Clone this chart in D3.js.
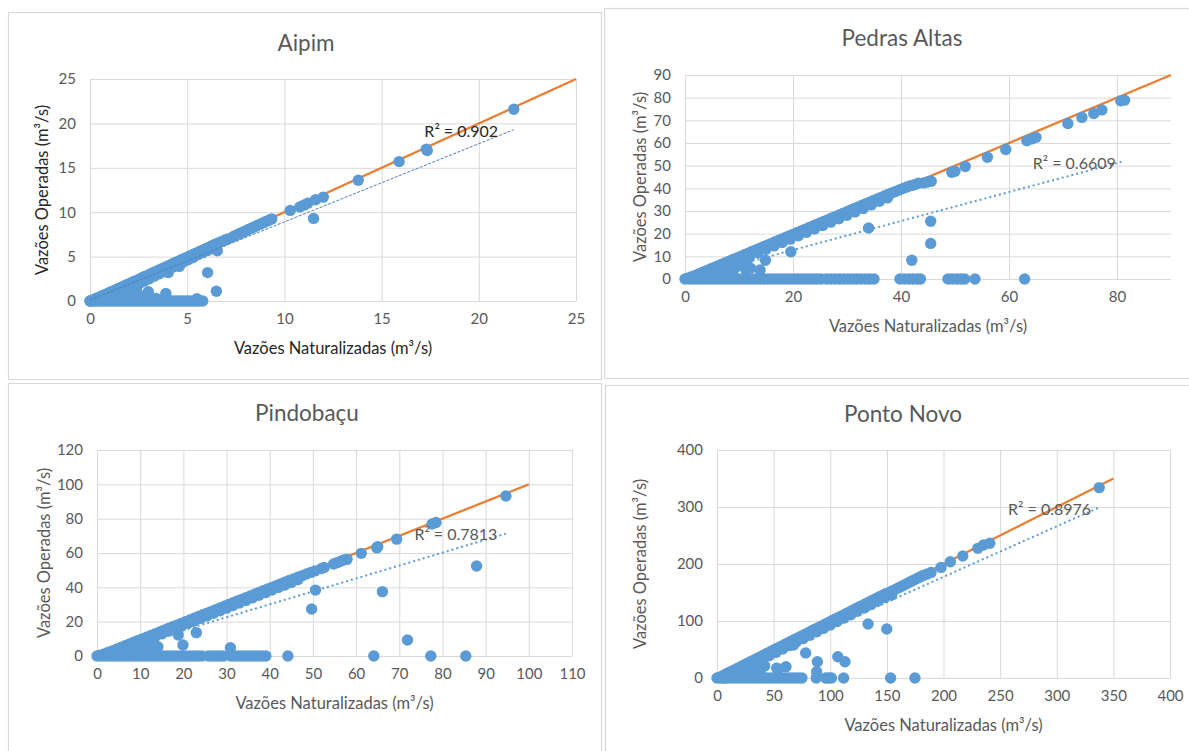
<!DOCTYPE html>
<html><head><meta charset="utf-8">
<script src="https://cdn.jsdelivr.net/npm/d3@7"></script>
<style>body{margin:0;background:#fff;} svg{display:block;} text{font-family:Lato,"Open Sans",sans-serif;}</style>
</head><body><svg id="c" width="1189" height="751"></svg>
<script>
// ---------------- DATA ----------------
const titles = ["Aipim", "Pedras Altas", "Pindobaçu", "Ponto Novo"];
const xAxisTitle = "Vazões Naturalizadas (m³/s)";
const yAxisTitle = "Vazões Operadas (m³/s)";

// Aipim
const aipimXTicks = [0, 5, 10, 15, 20, 25];
const aipimYTicks = [0, 5, 10, 15, 20, 25];
const aipimIdentityMax = 25;
const aipimFit = [0.88, 0.11]; // slope, intercept
const aipimR2 = "R² = 0.902";
const aipimZeroX = [0,0.1,0.25,0.4,0.55,0.7,0.85,1.0,1.15,1.3,1.45,1.6,1.75,1.9,2.05,2.2,2.35,2.5,2.65,2.8,2.95,3.1,3.25,3.4,3.55,3.7,3.85,4.0,4.15,4.3,4.45,4.6,4.75,4.9,5.05,5.2,5.35,5.5,5.65,5.8];
const aipimPoints = [
 [0,0],[0.12,0.1],[0.25,0.22],[0.38,0.35],[0.5,0.46],[0.63,0.6],[0.76,0.72],[0.9,0.85],[1.03,0.98],[1.16,1.1],[1.3,1.24],[1.43,1.38],[1.56,1.5],[1.7,1.63],[1.83,1.77],[1.96,1.9],[2.1,2.03],[2.23,2.16],[2.36,2.3],[2.5,2.43],[2.63,2.56],[2.76,2.7],[2.9,2.83],[3.03,2.96],[3.16,3.1],[3.3,3.23],[3.43,3.36],[3.56,3.5],[3.7,3.63],[3.83,3.76],[3.96,3.9],[4.1,4.03],[4.23,4.16],[4.36,4.3],[4.5,4.43],[4.63,4.56],[4.76,4.7],[4.9,4.83],[5.03,4.96],[5.16,5.1],[5.3,5.23],[5.43,5.36],[5.56,5.5],[5.7,5.63],[5.83,5.76],[5.96,5.9],[6.1,6.03],[6.23,6.16],[6.36,6.3],[6.5,6.43],[6.63,6.56],[6.8,6.72],[6.95,6.88],[7.1,7.0],[7.4,7.3],[7.55,7.45],[7.7,7.6],[7.85,7.75],[8.0,7.9],[8.15,8.05],[8.3,8.2],[8.45,8.35],[8.6,8.5],[8.75,8.65],[8.9,8.8],[9.05,8.95],[9.2,9.1],[9.35,9.25],
 [0.3,0.1],[0.55,0.25],[0.8,0.45],[1.05,0.65],[1.3,0.85],[1.55,1.05],[1.8,1.3],[2.05,1.5],[2.3,1.75],[2.55,2.0],[2.8,2.25],[3.05,2.5],[3.3,2.8],[3.55,3.05],[3.8,3.3],[4.05,3.6],[4.3,3.85],[4.55,4.1],[4.8,4.4],[5.05,4.65],[5.3,4.9],[5.55,5.2],[5.8,5.45],[6.05,5.7],[6.3,5.95],
 [0.5,0.05],[0.7,0.2],[0.9,0.3],[1.1,0.35],[1.3,0.5],[1.5,0.6],[1.7,0.75],[1.4,0.25],[1.9,0.4],[2.1,0.9],[2.4,1.2],[2.2,0.35],[2.6,0.5],[1.8,1.0],[3.0,1.05],[3.9,0.85],[2.9,0.4],[3.4,0.3],
 [4.03,3.2],[4.6,3.9],[6.05,3.2],[6.5,1.1],[6.55,5.65],[11.5,9.3],[5.5,0.25],
 [10.3,10.2],[10.8,10.6],[11.0,10.8],[11.2,11.0],[11.6,11.4],[12.0,11.7],[13.8,13.6],[15.9,15.7],[17.3,17.1],[17.35,16.95],[21.8,21.6]
];

// Pedras Altas
const pedrasXTicks = [0, 20, 40, 60, 80];
const pedrasYTicks = [0, 10, 20, 30, 40, 50, 60, 70, 80, 90];
const pedrasIdentityMax = 90;
const pedrasFit = [0.648, -0.7];
const pedrasR2 = "R² = 0.6609";
const pedrasZeroX = [0,0.7,1.4,2.1,2.8,3.5,4.2,4.9,5.6,6.3,7.0,7.7,8.4,9.1,9.8,10.5,11.2,11.9,12.6,13.3,14.0,14.7,15.4,16.1,16.8,17.5,18.2,18.9,19.6,20.3,21.0,21.7,22.4,23.1,23.8,24.5,25.2,26.2,27.0,27.8,28.6,29.4,30.2,31.0,31.8,32.6,33.4,34.2,35.0,39.8,40.6,41.4,42.2,43.0,43.6,48.7,49.5,50.3,51.1,51.8,53.7,62.9];
const pedrasPoints = [
 [0.5,0.3],[1.2,1.0],[1.9,1.6],[2.6,2.3],[3.3,3.0],[4.0,3.7],[4.7,4.4],[5.4,5.1],[6.1,5.8],[6.8,6.5],[7.5,7.2],[8.2,7.9],[8.9,8.6],[9.6,9.3],[10.3,10.0],[11.0,10.7],[11.7,11.4],[12.4,12.1],[13.1,12.8],[13.8,13.5],[14.5,14.2],[15.2,14.9],[15.9,15.6],[16.6,16.3],[17.3,17.0],[18.0,17.7],[18.7,18.4],[19.4,19.1],[20.1,19.8],[20.8,20.5],[21.5,21.2],[22.2,21.9],[22.9,22.6],[23.6,23.3],[24.3,24.0],[25.0,24.7],[25.7,25.4],[26.4,26.1],[27.1,26.8],[27.8,27.5],[28.5,28.2],[29.2,28.9],[29.9,29.6],[30.6,30.3],[31.3,31.0],[32.0,31.7],[32.7,32.4],[33.4,33.1],[34.1,33.8],[34.8,34.5],[35.5,35.2],[36.2,35.9],[36.9,36.6],[37.6,37.3],[38.3,38.0],[39.0,38.6],[39.7,39.3],[40.4,40.0],[41.1,40.6],[41.8,41.2],[42.5,41.6],[43.2,42.3],
 [3.0,1.2],[4.5,2.6],[6.0,4.1],[7.5,5.6],[9.0,7.1],[10.5,8.6],[12.0,10.1],[13.5,11.6],[15.0,13.1],[16.5,14.6],[18.0,16.1],[19.5,17.6],[21.0,19.1],[22.5,20.6],[24.0,22.1],[25.5,23.6],[27.0,25.1],[28.5,26.6],[30.0,28.1],[31.5,29.6],[33.0,31.1],[34.5,32.7],[36.0,34.3],[37.5,35.8],
 [2.0,0.6],[3.2,0.5],[4.2,1.5],[5.5,2.2],[6.5,3.2],[7.5,1.8],[8.3,3.8],[9.3,5.0],[8.8,2.5],[10.3,6.6],[11.2,4.3],[12.1,4.8],[13.9,4.0],[14.9,8.3],[19.6,12.0],[11.5,8.0],[7.0,4.5],
 [34.0,22.5],[45.5,25.5],[45.5,15.7],[42.0,8.3],
 [44.2,42.4],[44.9,42.8],[45.6,43.1],[49.4,47.1],[50.0,47.5],[51.9,49.6],[56.0,53.7],[59.4,57.1],[63.3,61.0],[64.2,61.8],[65.0,62.5],[70.9,68.6],[73.5,71.3],[75.7,73.0],[77.2,74.6],[80.7,78.6],[81.4,78.9]
];

// Pindobaçu
const pindoXTicks = [0, 10, 20, 30, 40, 50, 60, 70, 80, 90, 100, 110];
const pindoYTicks = [0, 20, 40, 60, 80, 100, 120];
const pindoIdentityMax = 100;
const pindoFit = [0.759, -0.6];
const pindoR2 = "R² = 0.7813";
const pindoZeroX = [0,0.9,1.8,2.7,3.6,4.5,5.4,6.3,7.2,8.1,9.0,9.9,10.8,11.7,12.6,13.5,14.4,15.3,16.2,17.1,18.0,18.9,19.8,20.7,21.6,22.5,23.4,24.3,25.8,26.7,27.6,28.5,29.3,31.0,31.9,32.8,33.7,34.6,35.5,36.4,37.3,38.2,39.1,44.2,64.1,77.3,85.4];
const pindoPoints = [
 [0.5,0.3],[1.5,1.1],[2.5,2.0],[3.5,3.0],[4.5,4.0],[5.5,5.0],[6.5,6.0],[7.5,7.0],[8.5,8.0],[9.5,9.0],[10.5,10.0],[11.5,11.0],[12.5,12.0],[13.5,13.0],[14.5,14.0],[15.5,15.0],[16.5,16.0],[17.5,17.0],[18.5,18.0],[19.5,19.0],[20.5,20.0],[21.5,21.0],[22.5,22.0],[23.5,23.0],[24.5,24.0],[25.5,25.0],[26.5,26.0],[27.5,27.0],[28.5,28.0],[29.5,29.0],[30.5,30.0],[31.5,31.0],[32.5,32.0],[33.5,33.0],[34.5,34.0],[35.5,35.0],[36.5,36.0],[37.5,37.0],[38.5,38.0],[39.5,39.0],[40.5,40.0],[41.5,41.0],[42.5,42.0],[43.5,43.0],[44.5,44.0],[45.5,44.9],[46.5,45.9],[47.5,46.8],[48.5,47.8],[49.5,48.7],[50.5,49.6],
 [3.0,1.2],[4.5,2.5],[6.0,4.0],[7.5,5.4],[9.0,6.9],[10.5,8.4],[12.0,9.9],[13.5,11.4],[15.0,12.9],[16.5,14.4],[18.0,15.9],[19.5,17.4],[21.0,18.9],[22.5,20.4],[24.0,21.9],[25.5,23.4],[27.0,24.9],[28.5,26.4],[30.0,27.9],[31.5,29.4],[33.0,30.9],[34.5,32.4],[36.0,33.9],[37.5,35.4],[39.0,36.9],[40.5,38.4],[42.0,39.9],[43.5,41.4],[45.0,42.9],[46.5,44.4],
 [3.0,0.8],[5.0,1.5],[6.0,3.0],[7.0,1.2],[8.0,4.0],[9.0,2.0],[10.0,5.5],[11.0,3.0],[12.0,7.0],[11.5,3.9],[13.0,4.5],[14.1,5.4],[18.8,12.2],[19.9,6.4],[23.0,13.6],[30.9,4.8],
 [49.7,27.4],[50.6,38.4],[66.1,37.5],[71.9,9.3],[87.9,52.4],
 [52.0,51.0],[52.6,51.6],[54.8,53.6],[55.6,54.4],[56.4,55.2],[57.2,56.0],[57.9,56.3],[61.2,59.8],[64.8,63.0],[65.0,63.7],[69.4,68.1],[77.6,76.9],[78.5,77.8],[94.7,93.2]
];

// Ponto Novo
const pontoXTicks = [0, 50, 100, 150, 200, 250, 300, 350, 400];
const pontoYTicks = [0, 100, 200, 300, 400];
const pontoIdentityMax = 350;
const pontoFit = [0.89, -1];
const pontoR2 = "R² = 0.8976";
const pontoZeroX = [0,3,6,9,12,15,18,21,24,27,30,33,36,39,42,45,48,51,54,57,60,63,66,69,72,75,87.6,96,98.5,101,111.8,153.3,174.8];
const pontoPoints = [
 [2,1],[5,4],[8,7],[11,10],[14,13],[17,16],[20,19],[23,22],[26,25],[29,28],[32,31],[35,34],[38,37],[41,40],[44,43],[47,46],[50,49],[53,52],[56,55],[59,58],[62,61],[65,64],[68,67],[71,70],[74,73],[77,76],[80,79],[83,82],[86,85],[89,88],[92,91],[95,94],[98,97],[101,100],[104,103],[107,106],[110,109],[113,112],[116,115],[119,118],[122,121],[125,124],[128,127],[131,130],[134,133],[137,136],[140,139],[143,142],[146,145],[149,148],[152,150],[155,153],[158,156],[161,159],[164,162],[167,165],[170,168],[173,171],[176,174],[179,177],[182,180],[185,182],[189,185],
 [10,3],[16,9],[22,15],[28,21],[34,27],[40,33],[46,39],[52,45],[58,51],[64,57],[70,63],[76,69],[82,75],[88,81],[94,87],[100,93],[106,99],[112,105],[118,111],[124,117],[130,123],[136,129],[142,135],[148,141],
 [6,0],[8,2],[10,4],[12,1],[14,6],[16,5],[18,3],[20,8],[22,10],[24,9],[26,6],[27,3],[30,12],[31,14],[34,5],[35,8],[28,18],[15,9],[25,14],[38,12],
 [42.1,21],[54.1,15.8],[60.9,19.8],[52.7,17],[67.5,57.9],[78.3,44],[88.6,28.6],[88,11],[106.7,37.4],[113,28.6],[133.4,94.7],[149.9,86],[154.3,145.6],
 [197.8,194],[206,204],[217,214],[230.3,227.5],[235.3,233.3],[240.9,236.3],[337.5,334]
];

// ---------------- LAYOUT ----------------
const panels = [
 {title:titles[0], pts:aipimPoints, zeros:aipimZeroX, xTicks:aipimXTicks, yTicks:aipimYTicks, idMax:aipimIdentityMax, fit:aipimFit, r2:aipimR2,
  box:[8,12,593,367], plot:[90,576,79,301], titleXY:[306,43], yTitleX:42, r2At:[17.2,19.1], dark:true, thin:true},
 {title:titles[1], pts:pedrasPoints, zeros:pedrasZeroX, xTicks:pedrasXTicks, yTicks:pedrasYTicks, xMax:90, idMax:pedrasIdentityMax, fit:pedrasFit, r2:pedrasR2,
  box:[604,8,600,370], plot:[685,1171,75,279], titleXY:[902,38], yTitleX:640, r2At:[64.4,51.2]},
 {title:titles[2], pts:pindoPoints, zeros:pindoZeroX, xTicks:pindoXTicks, yTicks:pindoYTicks, idMax:pindoIdentityMax, fit:pindoFit, r2:pindoR2,
  box:[8,383,593,380], plot:[97,572,450,656], titleXY:[307,413], yTitleX:44, r2At:[73.5,70.9]},
 {title:titles[3], pts:pontoPoints, zeros:pontoZeroX, xTicks:pontoXTicks, yTicks:pontoYTicks, idMax:pontoIdentityMax, fit:pontoFit, r2:pontoR2,
  box:[605,385,600,380], plot:[717,1170,450,678], titleXY:[903,414], yTitleX:640, r2At:[257,296.5]}
];

const svg = d3.select("#c");
const gray = "#595959", grid = "#d9d9d9", dotC = "#5b9bd5", orange = "#ed7d31";

panels.forEach(p => {
  const [bx, by, bw, bh] = p.box;
  svg.append("rect").attr("x", bx + 0.5).attr("y", by + 0.5).attr("width", bw).attr("height", bh)
    .attr("fill", "#fff").attr("stroke", grid).attr("stroke-width", 1.2);

  const [L, R, T, B] = p.plot;
  const xMax = p.xMax || p.xTicks[p.xTicks.length - 1];
  const yMax = p.yTicks[p.yTicks.length - 1];
  const x = d3.scaleLinear().domain([0, xMax]).range([L, R]);
  const y = d3.scaleLinear().domain([0, yMax]).range([B, T]);

  // gridlines
  const gx = svg.append("g").attr("transform", `translate(0,${B})`)
    .call(d3.axisBottom(x).tickValues(p.xTicks).tickSize(-(B - T)).tickFormat(""));
  gx.select(".domain").remove();
  gx.selectAll("line").attr("stroke", grid).attr("stroke-width", 1);
  const gy = svg.append("g").attr("transform", `translate(${L},0)`)
    .call(d3.axisLeft(y).tickValues(p.yTicks).tickSize(-(R - L)).tickFormat(""));
  gy.select(".domain").remove();
  gy.selectAll("line").attr("stroke", grid).attr("stroke-width", 1);

  // tick labels
  const ax = svg.append("g").attr("transform", `translate(0,${B})`)
    .call(d3.axisBottom(x).tickValues(p.xTicks).tickSize(0).tickPadding(12).tickFormat(d3.format("d")));
  ax.select(".domain").remove();
  ax.selectAll("text").attr("fill", gray).attr("font-size", 15).attr("font-family", "Lato");
  const ay = svg.append("g").attr("transform", `translate(${L},0)`)
    .call(d3.axisLeft(y).tickValues(p.yTicks).tickSize(0).tickPadding(14).tickFormat(d3.format("d")));
  ay.select(".domain").remove();
  ay.selectAll("text").attr("fill", gray).attr("font-size", 15).attr("font-family", "Lato");

  // identity line
  svg.append("line").attr("x1", x(0)).attr("y1", y(0)).attr("x2", x(p.idMax)).attr("y2", y(p.idMax))
    .attr("stroke", orange).attr("stroke-width", 2.25);

  // points
  const all = p.pts.concat(p.zeros.map(v => [v, 0]));
  svg.append("g").selectAll("circle").data(all).join("circle")
    .attr("cx", d => x(d[0])).attr("cy", d => y(d[1])).attr("r", 5.7).attr("fill", dotC);

  // trendline
  const xe = d3.extent(all, d => d[0]);
  const f = v => p.fit[0] * v + p.fit[1];
  svg.append("line").attr("x1", x(xe[0])).attr("y1", y(Math.max(0, f(xe[0]))))
    .attr("x2", x(xe[1])).attr("y2", y(f(xe[1])))
    .attr("stroke", p.thin ? "#4a7ebb" : dotC)
    .attr("stroke-width", p.thin ? 1 : 2)
    .attr("stroke-dasharray", p.thin ? "3,1.5" : "2,3");

  // R2 label
  svg.append("text").attr("x", x(p.r2At[0])).attr("y", y(p.r2At[1])).attr("dy", "0.35em")
    .attr("font-size", 16).attr("fill", p.dark ? "#262626" : gray).text(p.r2);

  // titles
  svg.append("text").attr("x", p.titleXY[0]).attr("y", p.titleXY[1]).attr("dy", "0.35em")
    .attr("text-anchor", "middle").attr("font-size", 22.5).attr("fill", gray).text(p.title);
  svg.append("text").attr("x", (L + R) / 2).attr("y", B + 47).attr("dy", "0.35em")
    .attr("text-anchor", "middle").attr("font-size", 16.5).attr("fill", p.dark ? "#262626" : gray).text(xAxisTitle);
  svg.append("text").attr("transform", `translate(${p.yTitleX},${(T + B) / 2}) rotate(-90)`).attr("dy", "0.35em")
    .attr("text-anchor", "middle").attr("font-size", 16.5).attr("fill", p.dark ? "#262626" : gray).text(yAxisTitle);
});
</script></body></html>
